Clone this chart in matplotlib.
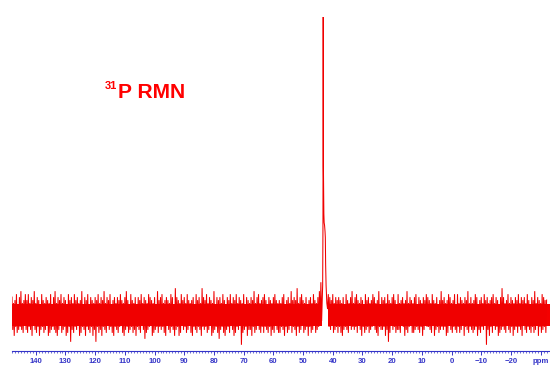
import numpy as np
import matplotlib
matplotlib.use("Agg")
import matplotlib.pyplot as plt
from matplotlib.ticker import MultipleLocator, FixedLocator, FixedFormatter

# ---- data ----
ppm_start, ppm_step = 148.0, -0.25   # sampling of the noise trace (one row = 5 ppm)
noise = [
    6, -5, 4, -7, 5, -4, 7, -6, 3, -5, 6, -4, 8, -5, 4, -6, 5, -3, 7, -5,
    5, -6, 7, -4, 4, -5, 6, -7, 5, -3, 8, -5, 4, -6, 6, -4, 5, -7, 3, -5,
    7, -4, 5, -6, 4, -5, 6, -3, 5, -7, 4, -6, 7, -5, 3, -4, 6, -5, 8, -6,
    4, -7, 6, -5, 5, -3, 7, -6, 4, -5, 6, -4, 5, -7, 3, -6, 7, -4, 5, -9,
    6, -5, 4, -6, 7, -4, 5, -5, 6, -3, 4, -7, 5, -6, 8, -4, 3, -5, 6, -7,
    5, -4, 7, -5, 3, -6, 6, -4, 5, -7, 4, -5, 6, -9, 5, -4, 7, -6, 4, -5,
    6, -7, 5, -4, 8, -5, 4, -6, 6, -3, 5, -5, 7, -4, 3, -6, 5, -7, 6, -4,
    4, -5, 6, -6, 5, -4, 7, -3, 5, -6, 4, -7, 6, -5, 8, -4, 5, -6, 3, -5,
    7, -4, 5, -6, 4, -5, 6, -7, 3, -4, 6, -5, 5, -6, 7, -3, 4, -5, 6, -8,
    5, -6, 4, -5, 7, -4, 6, -3, 5, -7, 4, -6, 6, -5, 3, -4, 8, -6, 5, -4,
    6, -5, 7, -4, 4, -6, 5, -7, 6, -3, 5, -5, 4, -6, 7, -4, 6, -5, 3, -7,
    9, -5, 6, -4, 5, -7, 4, -6, 7, -3, 5, -5, 6, -4, 4, -6, 7, -5, 5, -3,
    4, -6, 5, -7, 6, -4, 3, -5, 7, -6, 5, -4, 6, -5, 4, -7, 9, -4, 6, -5,
    5, -4, 7, -6, 4, -5, 6, -3, 5, -7, 4, -6, 8, -5, 3, -4, 6, -6, 5, -8,
    6, -5, 4, -4, 7, -6, 5, -7, 3, -5, 6, -4, 5, -6, 7, -3, 4, -5, 6, -7,
    5, -6, 7, -4, 4, -5, 6, -3, 5, -10, 4, -6, 7, -5, 3, -4, 6, -7, 5, -5,
    4, -5, 6, -7, 5, -4, 8, -6, 4, -5, 6, -3, 7, -5, 4, -6, 5, -4, 6, -6,
    7, -4, 5, -5, 3, -6, 6, -4, 5, -7, 4, -5, 6, -6, 7, -3, 5, -5, 4, -6,
    5, -6, 4, -4, 6, -5, 7, -7, 3, -4, 5, -6, 6, -5, 4, -3, 8, -6, 5, -4,
    6, -5, 5, -7, 9, -4, 4, -6, 6, -5, 7, -3, 5, -6, 4, -5, 6, -4, 3, -7,
    5, -4, 6, -6, 4, -5, 7, -3, 5, -6, 4, -5, 6, -4, 8, -3, 11, -2, 6, 70,
    34, 30, 26, 10, 4, 2, 7, -4, 6, -5, 5, -3, 7, -6, 4, -5, 6, -4, 5, -6,
    6, -4, 5, -6, 4, -7, 6, -5, 3, -4, 7, -5, 5, -6, 4, -3, 6, -5, 8, -4,
    4, -5, 6, -4, 7, -6, 5, -3, 4, -5, 6, -7, 5, -4, 3, -6, 7, -5, 5, -4,
    6, -6, 4, -5, 5, -4, 7, -3, 6, -5, 4, -6, 5, -7, 8, -4, 3, -5, 6, -5,
    5, -4, 6, -7, 4, -5, 7, -9, 5, -6, 4, -3, 6, -5, 7, -4, 5, -6, 3, -5,
    7, -5, 4, -6, 5, -3, 6, -4, 4, -7, 5, -5, 8, -6, 4, -4, 6, -3, 5, -6,
    4, -6, 6, -5, 7, -4, 3, -5, 6, -6, 5, -4, 4, -7, 6, -5, 5, -3, 7, -4,
    6, -4, 5, -5, 4, -6, 7, -3, 5, -7, 4, -5, 6, -4, 3, -6, 5, -5, 8, -4,
    5, -5, 6, -4, 4, -7, 5, -6, 7, -3, 6, -5, 4, -6, 5, -4, 7, -5, 3, -6,
    7, -4, 4, -6, 6, -5, 5, -3, 4, -7, 6, -4, 5, -5, 8, -6, 4, -4, 6, -5,
    4, -6, 5, -5, 7, -4, 6, -7, 3, -5, 5, -6, 6, -4, 4, -5, 7, -3, 5, -10,
    6, -5, 4, -7, 5, -4, 6, -6, 7, -3, 4, -5, 6, -4, 5, -7, 3, -6, 6, -5,
    9, -4, 6, -5, 4, -6, 5, -3, 7, -5, 4, -6, 6, -4, 5, -7, 4, -5, 6, -4,
    5, -6, 7, -4, 4, -5, 6, -7, 5, -3, 6, -5, 4, -6, 7, -4, 5, -5, 3, -6,
    6, -4, 5, -6, 8, -5, 4, -3, 6, -7, 5, -4, 4, -6, 7, -5, 6, -4, 5, -6,
    5,
]
peak_ppm = [43.4, 43.3, 43.22, 43.15, 42.9, 42.6, 42.4]
peak_int = [10, 30, 100, 50, 31, 28, 17]

# dense (solid) core of the noise band, gap under the peak
nan = float("nan")
core_ppm = [148, 120, 90, 60, 43.7, 43.6, 41.8, 41.7, 20, 0, -34]
core_hi = [3.8, 3.8, 3.8, 3.8, 3.8, nan, nan, 3.8, 3.8, 3.8, 3.8]
core_lo = [-3.8, -3.8, -3.8, -3.8, -3.8, nan, nan, -3.8, -3.8, -3.8, -3.8]

tick_values = [140, 130, 120, 110, 100, 90, 80, 70, 60, 50, 40, 30, 20, 10, 0, -10, -20, -30]
tick_labels = ["140", "130", "120", "110", "100", "90", "80", "70", "60", "50",
               "40", "30", "20", "10", "0", "\u221210", "\u221220", "ppm"]

# ---- build trace ----
noise_ppm = ppm_start + ppm_step * np.arange(len(noise))
x = np.concatenate([noise_ppm, peak_ppm])
y = np.concatenate([np.array(noise, float), np.array(peak_int, float)])
order = np.argsort(-x)
x, y = x[order], y[order]

W, H = 550, 368
fig = plt.figure(figsize=(W / 100, H / 100), dpi=100)
fig.patch.set_facecolor("white")

ax_left, ax_right = 12, 550
ax_bottom_px = 351  # pixel row of axis line (from top)
ax = fig.add_axes([ax_left / W, (H - ax_bottom_px) / H, (ax_right - ax_left) / W, ax_bottom_px / H])
ax.fill_between(core_ppm, core_lo, core_hi, color="#f40000", lw=0)
ax.plot(x, y, color="#f00000", lw=0.75, solid_joinstyle="miter")

px_per_ppm = 2.97
ax.set_xlim(148, 148 - (ax_right - ax_left) / px_per_ppm)
unit_px = 2.98
baseline_px = 315
ax.set_ylim(-(ax_bottom_px - baseline_px) / unit_px, baseline_px / unit_px)

blue = "#3535c8"
for s in ["top", "left", "right"]:
    ax.spines[s].set_visible(False)
ax.spines["bottom"].set_color(blue)
ax.spines["bottom"].set_linewidth(0.8)
ax.set_yticks([])
ax.xaxis.set_major_locator(FixedLocator(tick_values))
ax.xaxis.set_major_formatter(FixedFormatter(tick_labels))
ax.xaxis.set_minor_locator(MultipleLocator(1))
ax.tick_params(axis="x", which="major", direction="out", length=2.6, width=0.7,
               color=blue, labelcolor=blue, labelsize=5.6, pad=2.2)
ax.tick_params(axis="x", which="minor", direction="out", length=1.3, width=0.5, color=blue)
for lab in ax.get_xticklabels():
    lab.set_fontfamily("Liberation Sans")
    lab.set_fontweight("bold")

# title
fig.text(118 / W, 1 - 98 / H, "P RMN", color="#ff0000", fontsize=15.1,
         fontweight="bold", family="Liberation Sans", ha="left", va="baseline")
fig.text(117 / W, 1 - 89 / H, "31", color="#ff0000", fontsize=8,
         fontweight="bold", family="Liberation Sans", ha="right", va="baseline")

fig.savefig("out.png", dpi=100, facecolor="white")
